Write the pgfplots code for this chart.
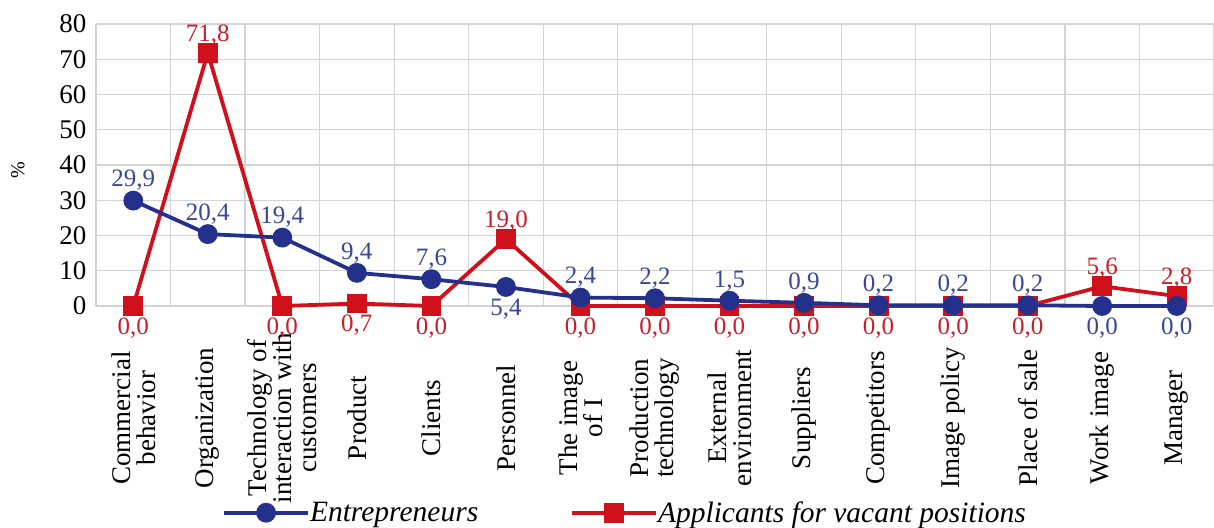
\documentclass[border=0pt]{standalone}
\usepackage{fontspec}
\setmainfont{Liberation Serif}
\usepackage{pgfplots}
\usepackage{pgfplotstable}
\pgfplotsset{compat=1.18}
\definecolor{cblue}{HTML}{23318C}
\definecolor{cred}{HTML}{D0111C}
\definecolor{lblue}{HTML}{3A4795}
\definecolor{lred}{HTML}{C8202A}
\definecolor{gridc}{HTML}{D3D3D3}

\pgfplotstableread{
x y lab dy
0 29.9 29,9 20
1 20.4 20,4 20
2 19.4 19,4 20
3 9.4 9,4 20
4 7.6 7,6 20
5 5.4 5,4 -22
6 2.4 2,4 20
7 2.2 2,2 20
8 1.5 1,5 20
9 0.9 0,9 20
10 0.2 0,2 20
11 0.2 0,2 20
12 0.2 0,2 20
13 0.0 0,0 -22
14 0.0 0,0 -22
}\blueT

\pgfplotstableread{
x y lab dy
0 0.0 0,0 -22
1 71.8 71,8 18
2 0.0 0,0 -22
3 0.7 0,7 -22
4 0.0 0,0 -22
5 19.0 19,0 18
6 0.0 0,0 -22
7 0.0 0,0 -22
8 0.0 0,0 -22
9 0.0 0,0 -22
10 0.0 0,0 -22
11 0.0 0,0 -22
12 0.0 0,0 -22
13 5.6 5,6 18
14 2.8 2,8 18
}\redT

\begin{document}
\begin{tikzpicture}
\begin{axis}[
  scale only axis,
  width=1118pt, height=282pt,
  xmin=-0.5, xmax=14.5,
  ymin=0, ymax=80,
  ytick={0,10,...,80},
  xtick={0,...,14},
  xticklabels={{Commercial\\behavior},{Organization},{Technology of\\interaction with\\customers},{Product},{Clients},{Personnel},{The image\\of I},{Production\\technology},{External\\environment},{Suppliers},{Competitors},{Image policy},{Place of sale},{Work image},{Manager}},
  minor xtick={-0.5,0.5,1.5,2.5,3.5,4.5,5.5,6.5,7.5,8.5,9.5,10.5,11.5,12.5,13.5,14.5},
  xminorgrids=true, ymajorgrids=true,
  grid style={gridc, line width=1.2pt},
  minor grid style={gridc, line width=1.2pt},
  major tick length=0pt, minor tick length=0pt,
  axis line style={draw=none},
  /pgf/number format/assume math mode=true,
  yticklabel style={font=\fontsize{27}{27}\selectfont, anchor=east, xshift=-6pt},
  xticklabel style={yshift=-112pt, rotate=90, anchor=center, align=center, font=\fontsize{27}{25}\selectfont},
  ylabel={\%},
  ylabel style={at={(axis description cs:-0.0698,0.482)}, anchor=center, font=\fontsize{20}{20}\selectfont},
  clip=false,
  legend columns=2,
  reverse legend,
  legend style={at={(0.1127,-0.733)}, anchor=west, draw=none, fill=none, font=\fontsize{29.5}{29.5}\itshape, inner sep=0pt,
    /tikz/every even column/.append style={column sep=92pt},
    nodes={inner xsep=0pt}},
  legend image code/.code={\draw[#1,mark repeat=2,mark phase=2] plot coordinates {(0pt,0pt) (42pt,0pt) (84pt,0pt)};},
  nodes near coords,
  point meta=explicit symbolic,
  visualization depends on={\thisrow{dy}\as\dy},
  every node near coord/.append style={anchor=center, yshift=\dy pt, font=\fontsize{25}{25}\selectfont},
]
\addplot[cred, line width=3.8pt, mark=square*, mark size=8pt, mark options={solid},
  every node near coord/.append style={text=lred}]
  table[x=x, y=y, meta=lab] {\redT};
\addlegendentry{Applicants for vacant positions}
\addplot[cblue, line width=3.8pt, mark=*, mark size=8pt, mark options={solid},
  every node near coord/.append style={text=lblue}]
  table[x=x, y=y, meta=lab] {\blueT};
\addlegendentry{Entrepreneurs}
\end{axis}
\pgfresetboundingbox
\path[use as bounding box] (-96pt,-221pt) rectangle (1118pt,306pt);
\end{tikzpicture}
\end{document}
